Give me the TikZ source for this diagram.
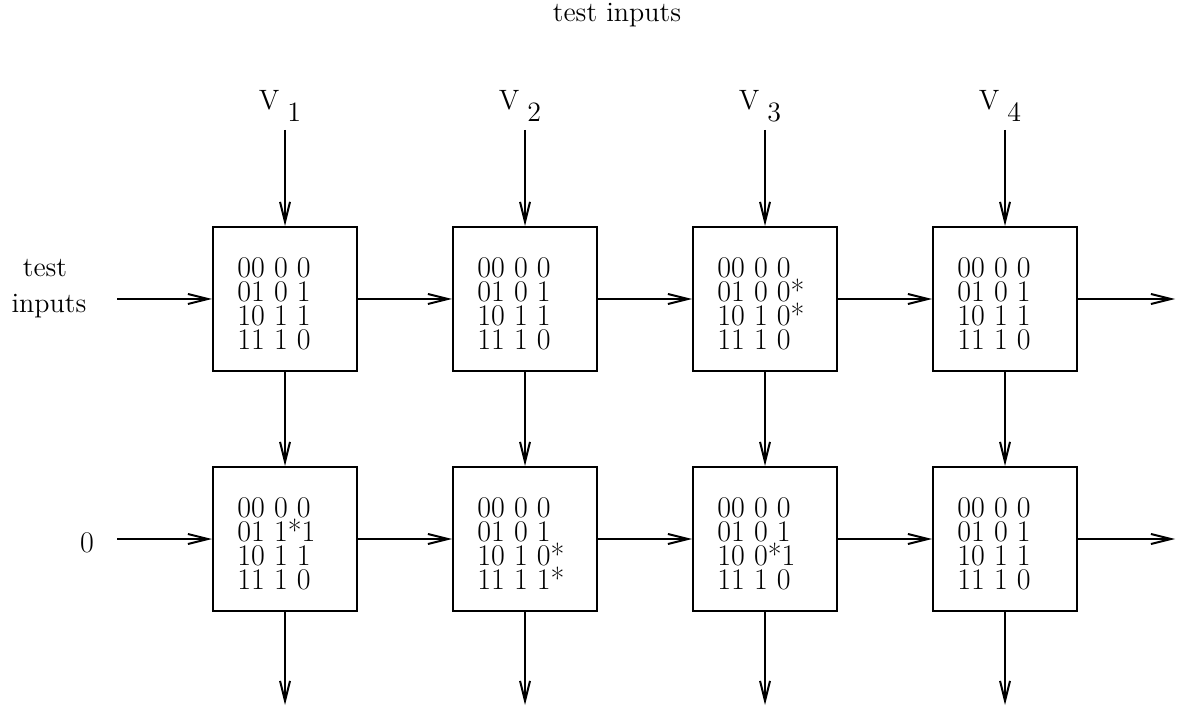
\documentclass[tikz,border=0pt]{standalone}
\usetikzlibrary{arrows.meta,positioning}

\tikzset{
    cell/.style={draw, line width=1pt, minimum size=72pt, inner sep=0pt},
    tab/.style={anchor=west, align=left, inner sep=0pt, font=\fontsize{15}{12}\selectfont},
    lbl/.style={inner sep=0pt, anchor=base, font=\fontsize{14}{16}\selectfont},
    wire/.style={line width=1pt, -{Straight Barb[length=10pt,width=5pt,line width=1pt]}}
}

\begin{document}
\begin{tikzpicture}[x=0.5pt,y=-0.5pt]
    \useasboundingbox (0,0) rectangle (1179,711);
    % labels
    \node[lbl] (top) at (617,22) {test inputs};
    \node[lbl] (tst) at (45,277) {test};
    \node[lbl] (inp) at (49,313) {inputs};
    \node[lbl, font=\fontsize{15}{16}\selectfont] (zero) at (87,552) {0};
    \foreach \c/\x in {1/280,2/520,3/760,4/1000}
        \node[lbl] (v\c) at (\x,110) {V\hspace{4pt}\raisebox{-6pt}{\c}};
    % cells
    \foreach \c/\x in {1/285,2/525,3/765,4/1005} {
        \node[cell] (a\c) at (\x,299) {};
        \node[cell] (b\c) at (\x,539) {};
        \coordinate (in\c) at (\x,130);
        \coordinate (out\c) at (\x,705);
    }
    \node[tab] (ta1) at ([xshift=12.5pt,yshift=-2.5pt]a1.west) {00 0 0\\01 0 1\\10 1 1\\11 1 0};
    \node[tab] (ta2) at ([xshift=12.5pt,yshift=-2.5pt]a2.west) {00 0 0\\01 0 1\\10 1 1\\11 1 0};
    \node[tab] (ta3) at ([xshift=12.5pt,yshift=-2.5pt]a3.west) {00 0 0\\01 0 0*\\10 1 0*\\11 1 0};
    \node[tab] (ta4) at ([xshift=12.5pt,yshift=-2.5pt]a4.west) {00 0 0\\01 0 1\\10 1 1\\11 1 0};
    \node[tab] (tb1) at ([xshift=12.5pt,yshift=-2.5pt]b1.west) {00 0 0\\01 1*1\\10 1 1\\11 1 0};
    \node[tab] (tb2) at ([xshift=12.5pt,yshift=-2.5pt]b2.west) {00 0 0\\01 0 1\\10 1 0*\\11 1 1*};
    \node[tab] (tb3) at ([xshift=12.5pt,yshift=-2.5pt]b3.west) {00 0 0\\01 0 1\\10 0*1\\11 1 0};
    \node[tab] (tb4) at ([xshift=12.5pt,yshift=-2.5pt]b4.west) {00 0 0\\01 0 1\\10 1 1\\11 1 0};
    % free ends
    \coordinate (ina) at (117,299);
    \coordinate (inb) at (117,539);
    \coordinate (outa) at (1175,299);
    \coordinate (outb) at (1175,539);
    % arrows
    \foreach \c in {1,2,3,4} {
        \draw[wire] (in\c) -- (a\c);
        \draw[wire] (a\c) -- (b\c);
        \draw[wire] (b\c) -- (out\c);
    }
    \draw[wire] (ina) -- (a1);
    \draw[wire] (inb) -- (b1);
    \foreach \p/\n in {1/2,2/3,3/4} {
        \draw[wire] (a\p) -- (a\n);
        \draw[wire] (b\p) -- (b\n);
    }
    \draw[wire] (a4) -- (outa);
    \draw[wire] (b4) -- (outb);
\end{tikzpicture}
\end{document}
